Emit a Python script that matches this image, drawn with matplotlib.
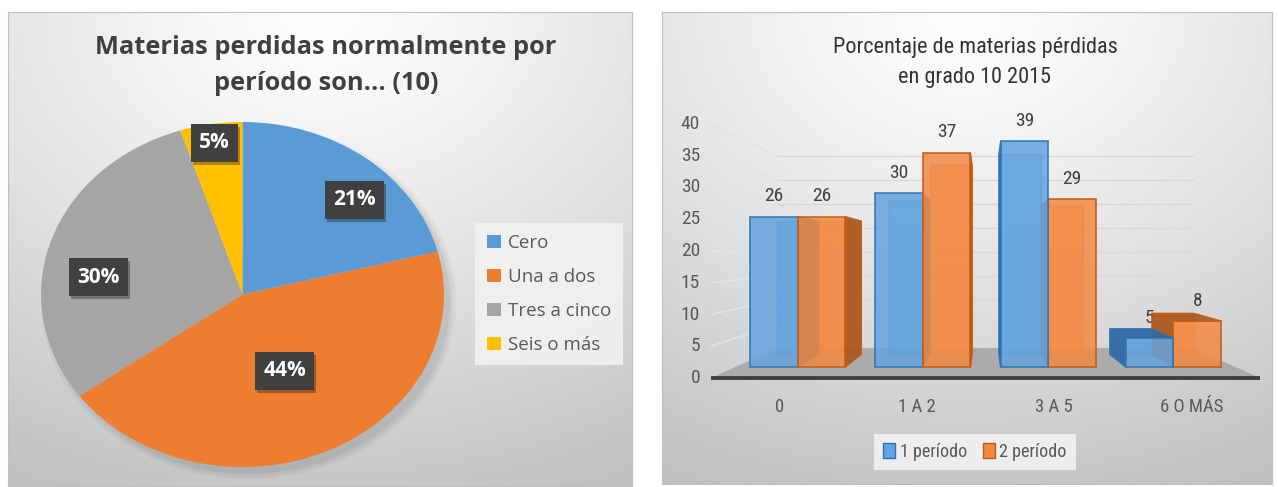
import numpy as np
import matplotlib.pyplot as plt
from matplotlib import font_manager as fm
from matplotlib.patches import Polygon, Patch, Ellipse, Rectangle

# ---- data ----
pie_labels = ["Cero", "Una a dos", "Tres a cinco", "Seis o más"]
pie_values = [21, 44, 30, 5]

bar_categories = ["0", "1 A 2", "3 A 5", "6 O MÁS"]
periodo_1 = [26, 30, 39, 5]
periodo_2 = [26, 37, 29, 8]
series_names = ["1 período", "2 período"]
y_ticks = [0, 5, 10, 15, 20, 25, 30, 35, 40]

# ---- layout / style ----
W, H = 1278, 487
LEFT_FONT = ["Open Sans", "DejaVu Sans"]
PIE_COLORS = ["#5B9BD5", "#ED7D31", "#A5A5A5", "#FFC000"]
TXT = "#595959"

# the right chart uses a condensed face; take one if installed
names = {f.name for f in fm.fontManager.ttflist}
narrow = [n for n in ["Liberation Sans Narrow", "Roboto Condensed", "Noto Sans SemiCondensed",
                      "Noto Sans Condensed", "Open Sans Condensed", "DejaVu Sans Condensed"]
          if n in names]
dejavu_cond = any(f.name == "DejaVu Sans" and "Condensed" in f.fname for f in fm.fontManager.ttflist)
if narrow:
    RF = dict(family=[narrow[0], "DejaVu Sans"])
    fs = 1.0
elif dejavu_cond:
    RF = dict(family=["DejaVu Sans"], stretch="condensed")
    fs = 0.95
else:
    RF = dict(family=["Liberation Sans", "DejaVu Sans"])
    fs = 0.88

fig = plt.figure(figsize=(W / 100, H / 100), dpi=100)


def fig_rect(x0, y0, x1, y1):
    return [x0 / W, 1 - y1 / H, (x1 - x0) / W, (y1 - y0) / H]


def panel_bg(x0, y0, x1, y1):
    ax = fig.add_axes(fig_rect(x0, y0, x1, y1), zorder=-5)
    yy, xx = np.mgrid[0:1:200j, 0:1:300j]
    d = np.sqrt((xx - 0.5) ** 2 + yy ** 2) / 1.118
    g = 1 - 0.25 * d ** 1.2
    ax.imshow(np.dstack([g, g, g]), extent=[0, 1, 0, 1], aspect="auto", origin="upper")
    ax.set_xticks([])
    ax.set_yticks([])
    for sp in ax.spines.values():
        sp.set_color("#BFBFBF")
    return ax


panel_bg(8, 12, 632, 486)
panel_bg(662, 12, 1272, 484)

# =================== left: pie ===================
fig.text(326 / W, 1 - 47 / H, "Materias perdidas normalmente por", ha="center", va="center",
         family=LEFT_FONT, weight="bold", size=18.3, color="#404040")
fig.text(326 / W, 1 - 83 / H, "período son... (10)", ha="center", va="center",
         family=LEFT_FONT, weight="bold", size=18.3, color="#404040")

axp = fig.add_axes(fig_rect(41, 122, 444, 467))
axp.set_facecolor("none")
for k, a in enumerate([0.05, 0.04, 0.03]):
    axp.add_patch(Ellipse((0.03, -0.04), 2.0 + 0.03 * k, 2.0 + 0.03 * k, fc="black",
                          alpha=a, ec="none", zorder=0, clip_on=False))
wedges, _ = axp.pie(pie_values, colors=PIE_COLORS, startangle=90, counterclock=False,
                    radius=1, wedgeprops=dict(linewidth=0))
axp.set_aspect("auto")
axp.set_xlim(-1, 1)
axp.set_ylim(-1, 1)
axp.axis("off")

label_r = [0.78, 0.49, 0.72, 0.89]
label_shift = [-7.5, 0, 10, 0]
pct_texts = []
for w, v, r, sh in zip(wedges, pie_values, label_r, label_shift):
    ang = np.deg2rad((w.theta1 + w.theta2) / 2 + sh)
    t = axp.text(r * np.cos(ang), r * np.sin(ang), f"{v}%", ha="center", va="center",
                 family=LEFT_FONT, weight="bold", size=15, color="white", zorder=5,
                 bbox=dict(boxstyle="square,pad=0.4", fc="#404040", ec="none"))
    pct_texts.append(t)

pie_handles = [Patch(fc=c, ec="none") for c in PIE_COLORS]
fig.legend(pie_handles, pie_labels, loc="center", bbox_to_anchor=(549 / W, 1 - 294 / H),
           frameon=True, facecolor="#F2F2F2", edgecolor="none", framealpha=0.9, fancybox=False,
           handlelength=0.75, handleheight=0.75, handletextpad=0.4, labelspacing=0.85,
           borderpad=0.6, prop=dict(family=LEFT_FONT, size=13.5), labelcolor=TXT)

# =================== right: pseudo-3D bars ===================
fig.text(975 / W, 1 - 47 / H, "Porcentaje de materias pérdidas", ha="center", va="center",
         size=16 * fs, color="#333333", **RF)
fig.text(975 / W, 1 - 78 / H, "en grado 10 2015", ha="center", va="center",
         size=16 * fs, color="#333333", **RF)

X0PX, UX = 711, 137.25   # pixel of category 0 edge, pixels per category
Y0PX, UY = 378, 6.35     # pixel of value 0, pixels per unit (front plane)
axb = fig.add_axes(fig_rect(662, 12, 1272, 484))
axb.set_facecolor("none")
axb.set_xlim((662 - X0PX) / UX, (1272 - X0PX) / UX)
axb.set_ylim((Y0PX - 484) / UY, (Y0PX - 12) / UY)
axb.axis("off")

n = len(bar_categories)
XVP, YVP = n / 2, 19.4
S_BACK = 0.756
S_BF, S_BB = 0.913, 0.808
BW = 0.38


def proj(x, v, s):
    return (XVP + s * (x - XVP), YVP + s * (v - YVP))


# walls and gridlines
for v in y_ticks[1:]:
    p0, p1, p2 = proj(0, v, 1), proj(0, v, S_BACK), proj(n, v, S_BACK)
    axb.plot([p0[0], p1[0]], [p0[1], p1[1]], color="#E4E4E4", lw=1, zorder=0.5)
    axb.plot([p1[0], p2[0]], [p1[1], p2[1]], color="#D9D9D9", lw=1, zorder=0.5)
for v in y_ticks:
    axb.text(-0.08, v, str(v), ha="right", va="center", size=14 * fs, color=TXT, **RF)

floor = [proj(0, 0, 1), proj(n, 0, 1), proj(n, 0, S_BACK), proj(0, 0, S_BACK)]
axb.add_patch(Polygon(floor, closed=True, fc="#ABABAB", ec="none", zorder=0.6))
axb.plot([0, n], [0, 0], color="#404040", lw=2.8, zorder=0.7, solid_capstyle="butt")

for i, c in enumerate(bar_categories):
    axb.text(i + 0.5, -4.6, c, ha="center", va="center", size=13.5 * fs, color=TXT, **RF)

SERIES_STYLE = [
    dict(face="#64A3DE", edge="#2E75B6", inner="#5590CC", dark="#2F66A0"),
    dict(face="#F28A44", edge="#C55A11", inner="#D9722E", dark="#A8561F"),
]


def draw_bar(x0, x1, v, st, z):
    f = lambda x, vv: proj(x, vv, S_BF)
    b = lambda x, vv: proj(x, vv, S_BB)
    axb.add_patch(Polygon([b(x0, 0), b(x1, 0), b(x1, v), b(x0, v)], closed=True,
                          fc=st["face"], ec=st["inner"], lw=0.9, alpha=0.6, zorder=z))
    if x1 < XVP:
        axb.add_patch(Polygon([f(x1, 0), b(x1, 0), b(x1, v), f(x1, v)], closed=True,
                              fc=st["dark"], ec=st["edge"], lw=0.9, alpha=0.9, zorder=z))
    if x0 > XVP:
        axb.add_patch(Polygon([f(x0, 0), b(x0, 0), b(x0, v), f(x0, v)], closed=True,
                              fc=st["dark"], ec=st["edge"], lw=0.9, alpha=0.9, zorder=z))
    if v < YVP:
        axb.add_patch(Polygon([f(x0, v), f(x1, v), b(x1, v), b(x0, v)], closed=True,
                              fc=st["dark"], ec=st["edge"], lw=0.9, alpha=0.9, zorder=z))
    axb.add_patch(Polygon([f(x0, 0), f(x1, 0), f(x1, v), f(x0, v)], closed=True,
                          fc=st["face"], ec=st["edge"], lw=1.3, alpha=0.85, zorder=z))
    cx, cy = proj((x0 + x1) / 2, v, S_BF)
    axb.text(cx, cy + 3.2, str(v), ha="center", va="center", size=14 * fs,
             color="#404040", zorder=1.5, **RF)


z = 2
for i in range(n):
    bars = [(i + 0.5 - BW, i + 0.5, periodo_1[i], SERIES_STYLE[0]),
            (i + 0.5, i + 0.5 + BW, periodo_2[i], SERIES_STYLE[1])]
    if i + 0.5 > XVP:
        bars = bars[::-1]
    for x0, x1, v, st in bars:
        draw_bar(x0, x1, v, st, z)
        z += 1

bar_handles = [Patch(fc=s["face"], ec=s["edge"]) for s in SERIES_STYLE]
fig.legend(bar_handles, series_names, loc="center", bbox_to_anchor=(975 / W, 1 - 452 / H),
           ncol=2, frameon=True, facecolor="#F2F2F2", edgecolor="none", framealpha=0.9,
           fancybox=False, handlelength=0.65, handleheight=0.9, handletextpad=0.25,
           columnspacing=0.9, borderpad=0.5, prop=dict(size=13 * fs, **RF),
           labelcolor=TXT)

# soft drop shadow under the percentage boxes (behind the boxes, above the wedges)
fig.canvas.draw()
for t in pct_texts:
    bb = t.get_bbox_patch().get_window_extent()
    axp.add_patch(Rectangle((bb.x0 + 2, bb.y0 - 3), bb.width, bb.height, transform=None,
                            fc="black", alpha=0.3, ec="none", zorder=4.5, clip_on=False))

fig.savefig("out.png", dpi=100)
